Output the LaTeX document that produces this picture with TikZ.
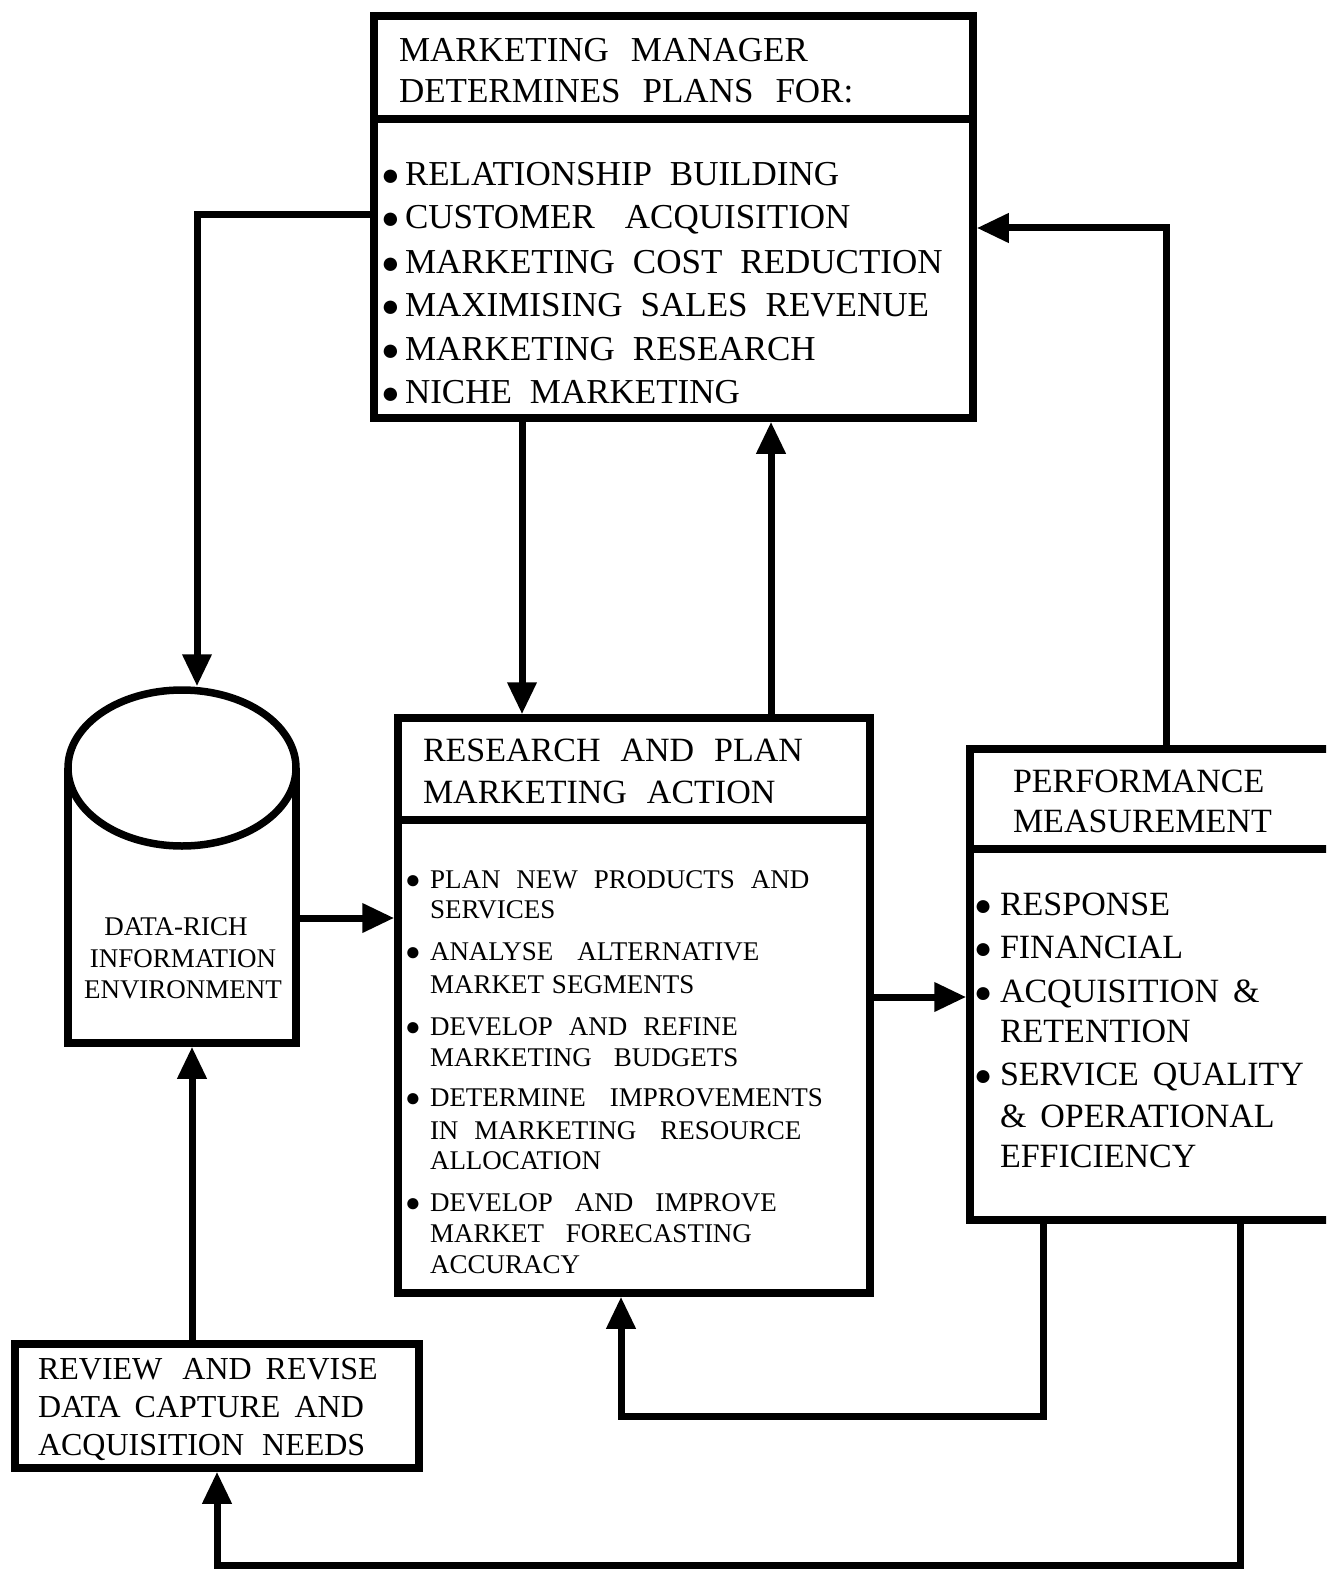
\documentclass[tikz,border=0pt]{standalone}
\usepackage{fontspec}
\setmainfont{Liberation Serif}
\usetikzlibrary{arrows.meta}
% bullet: a black circle set in its own size, shifted to mid cap height
\newcommand\bul[3]{\makebox[#1pt][l]{\raisebox{#3pt}{\fontsize{#2}{#2}\selectfont ●}}}
\newcommand\wordgap[1]{\spaceskip=#1pt plus 2pt\relax}
\begin{document}
\begin{tikzpicture}[x=1pt,y=-1pt,line width=7.5pt,
  box/.style={draw, rectangle, inner sep=0pt, line width=7.5pt},
  wire/.style={line width=7pt},
  arr/.style={wire, -{Triangle[length=32pt,width=28pt]}},
  lbl/.style={anchor=base west, inner sep=0pt, outer sep=0pt},
  topfont/.style={lbl, font=\fontsize{35}{42}\selectfont, execute at begin node={\wordgap{18}}},
  tophead/.style={lbl, font=\fontsize{35}{42}\selectfont, execute at begin node={\wordgap{22}}},
  midhead/.style={lbl, font=\fontsize{34}{40}\selectfont, execute at begin node={\wordgap{20}}},
  midfont/.style={lbl, font=\fontsize{27}{32}\selectfont, execute at begin node={\wordgap{16}}},
  perffont/.style={lbl, font=\fontsize{34}{40}\selectfont, execute at begin node={\wordgap{14}}},
  cylfont/.style={anchor=base, inner sep=0pt, font=\fontsize{27}{32}\selectfont},
  revfont/.style={lbl, font=\fontsize{32}{38}\selectfont, execute at begin node={\wordgap{14}}},
]
\useasboundingbox (0,0) rectangle (1326,1570);
\clip (0,0) rectangle (1326,1570);

% ---------- boxes ----------
\node[box, minimum width=599pt, minimum height=402pt] (mm) at (673.5,217) {};
\coordinate (mmdiv) at (0,119);
\draw (mm.west |- mmdiv) -- (mm.east |- mmdiv);

\node[box, minimum width=472pt, minimum height=575pt] (ra) at (634,1005.5) {};
\coordinate (radiv) at (0,820);
\draw (ra.west |- radiv) -- (ra.east |- radiv);

\node[box, minimum width=430pt, minimum height=471pt] (pm) at (1185,984.5) {};
\coordinate (pmdiv) at (0,849);
\draw (pm.west |- pmdiv) -- (pm.east |- pmdiv);

\node[box, minimum width=404pt, minimum height=124pt] (rv) at (217,1406) {};

% data store drawn as a cylinder
\node[draw=none, inner sep=0pt, outer sep=0pt, minimum width=235.5pt, minimum height=360.5pt] (db) at (182,866.5) {};
\draw (68,768) -- (68,1043) -- (296,1043) -- (296,768);
\draw (182,768) ellipse [x radius=114pt, y radius=78pt];

% ---------- texts ----------
\node[tophead] (mmh1) at (399,62) {MARKETING MANAGER};
\node[tophead] (mmh2) at (399,103) {DETERMINES PLANS FOR:};
\node[topfont] (mmi1) at (381,186) {\bul{24}{31}{0}RELATIONSHIP BUILDING};
\node[topfont] (mmi2) at (381,229) {\bul{24}{31}{0}CUSTOMER\hspace{12pt} ACQUISITION};
\node[topfont] (mmi3) at (381,273) {\bul{24}{31}{0}MARKETING COST REDUCTION};
\node[topfont] (mmi4) at (381,316) {\bul{24}{31}{0}MAXIMISING SALES REVENUE};
\node[topfont] (mmi5) at (381,360) {\bul{24}{31}{0}MARKETING RESEARCH};
\node[topfont] (mmi6) at (381,403) {\bul{24}{31}{0}NICHE MARKETING};

\node[midhead] (rah1) at (423,761) {RESEARCH AND PLAN};
\node[midhead] (rah2) at (423,803) {MARKETING ACTION};
\node[midfont] (rai1) at (405,888) {\bul{25}{26}{-0.5}PLAN NEW PRODUCTS AND};
\node[midfont] (rai2) at (430,918) {SERVICES};
\node[midfont] (rai3) at (405,960) {\bul{25}{26}{-0.5}ANALYSE\hspace{8pt} ALTERNATIVE};
\node[midfont] (rai4) at (430,993) {MARKET\hspace{-8pt} SEGMENTS};
\node[midfont] (rai5) at (405,1035) {\bul{25}{26}{-0.5}DEVELOP AND REFINE};
\node[midfont] (rai6) at (430,1066) {MARKETING\hspace{6pt} BUDGETS};
\node[midfont] (rai7) at (405,1106) {\bul{25}{26}{-0.5}DETERMINE\hspace{8pt} IMPROVEMENTS};
\node[midfont] (rai8) at (430,1139) {IN MARKETING\hspace{8pt} RESOURCE};
\node[midfont] (rai9) at (430,1169) {ALLOCATION};
\node[midfont] (rai10) at (405,1211) {\bul{25}{26}{-0.5}DEVELOP\hspace{6pt} AND\hspace{6pt} IMPROVE};
\node[midfont] (rai11) at (430,1242) {MARKET\hspace{6pt} FORECASTING};
\node[midfont] (rai12) at (430,1273) {ACCURACY};

\node[perffont] (pmh1) at (1013,792) {PERFORMANCE};
\node[perffont] (pmh2) at (1013,832) {MEASUREMENT};
\node[perffont] (pmi1) at (974,915) {\bul{26}{30}{0}RESPONSE};
\node[perffont] (pmi2) at (974,958) {\bul{26}{30}{0}FINANCIAL};
\node[perffont] (pmi3) at (974,1002) {\bul{26}{30}{0}ACQUISITION \&};
\node[perffont] (pmi4) at (1000,1042) {RETENTION};
\node[perffont] (pmi5) at (974,1085) {\bul{26}{30}{0}SERVICE QUALITY};
\node[perffont] (pmi6) at (1000,1127) {\& OPERATIONAL};
\node[perffont] (pmi7) at (1000,1167) {EFFICIENCY};

\node[cylfont] (dbt1) at (176,935) {DATA-RICH};
\node[cylfont] (dbt2) at (183,967) {INFORMATION};
\node[cylfont] (dbt3) at (183,998) {ENVIRONMENT};

\node[revfont] (rvt1) at (38,1379) {REVIEW\hspace{6pt} AND REVISE};
\node[revfont] (rvt2) at (38,1417) {DATA CAPTURE AND};
\node[revfont] (rvt3) at (38,1455) {ACQUISITION\hspace{4pt} NEEDS};

% ---------- connectors ----------
\coordinate (c1) at (197,215);
\coordinate (c2) at (522,0);
\coordinate (c3) at (771,0);
\coordinate (c4) at (1166,228);
\coordinate (c5) at (0,918);
\coordinate (c6) at (0,997);
\coordinate (c7a) at (1043,1416);
\coordinate (c7b) at (621,1416);
\coordinate (c8a) at (1240,1565);
\coordinate (c8b) at (217,1565);
\coordinate (c9) at (192,0);

\draw[arr] (mm.west |- c1) -| (db.north -| c1);
\draw[arr] (mm.south -| c2) -- (ra.north -| c2);
\draw[arr] (ra.north -| c3) -- (mm.south -| c3);
\draw[arr] (pm.north -| c4) |- (mm.east |- c4);
\draw[arr] (db.east |- c5) -- (ra.west |- c5);
\draw[arr] (ra.east |- c6) -- (pm.west |- c6);
\draw[arr] (pm.south -| c7a) -- (c7a) -- (c7b) -- (ra.south -| c7b);
\draw[arr] (pm.south -| c8a) -- (c8a) -- (c8b) -- (rv.south -| c8b);
\draw[arr] (rv.north -| c9) -- (db.south -| c9);
\end{tikzpicture}
\end{document}
